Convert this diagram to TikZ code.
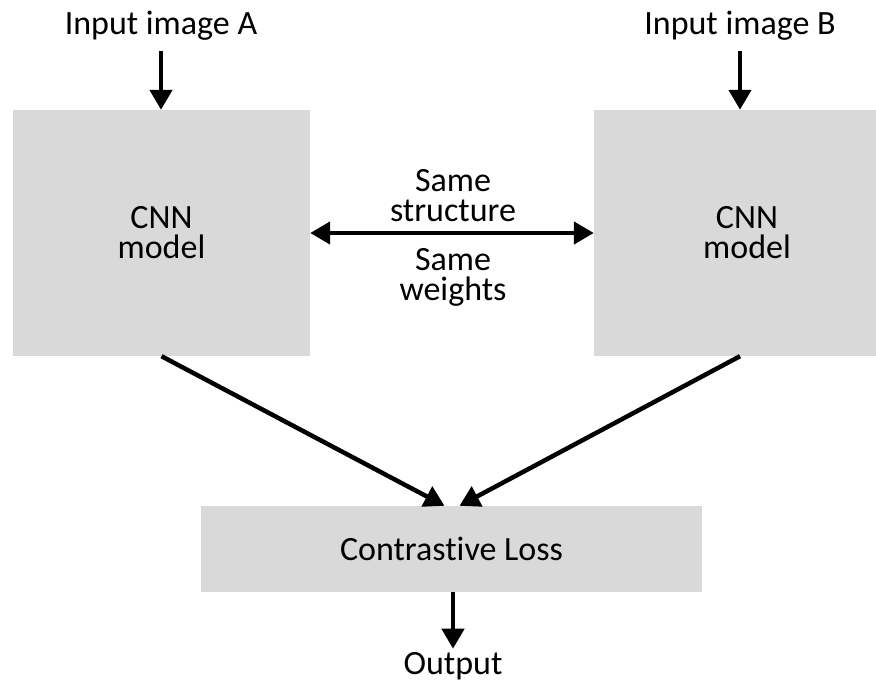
\documentclass[tikz,border=0pt]{standalone}
\usepackage{fontspec}
\setmainfont[Ligatures={NoCommon,NoContextual}]{Carlito}
\usetikzlibrary{arrows.meta}
\definecolor{boxgray}{HTML}{D9D9D9}
\begin{document}
\begin{tikzpicture}[x=1pt,y=-1pt,
  every node/.style={font=\fontsize{34}{30}\selectfont, inner sep=0pt, align=center},
  block/.style={fill=boxgray},
  flow/.style={line width=4.5pt, -{Triangle[width=22pt,length=20pt]}},
  twoway/.style={line width=4.5pt, {Triangle[width=22pt,length=20pt]}-{Triangle[width=22pt,length=20pt]}},
  ]
\useasboundingbox (0,0) rectangle (876,684);

% inputs
\node[anchor=base] (inA) at (161,35) {Input image A};
\node[anchor=base] (inB) at (740,35) {Input image B};

% twin networks
\node[block, minimum width=297pt, minimum height=246pt] (boxA) at (161.5,233) {CNN\\model};
\node[block, minimum width=306pt, minimum height=246pt] (boxB) at (747,233) {CNN\\model};

% loss (kern keeps t and i apart)
\node[block, minimum width=501pt, minimum height=86pt] (loss) at (451.5,549) {Contrast\kern0pt ive Loss};
\node[anchor=base] (out) at (453,674) {Output};

% shared labels
\node (same1) at (453,196) {Same\\structure};
\node (same2) at (453,277) {Same\\weights};

% connectors
\draw[flow, shorten <=10pt] (inA.south) -- (inA.south |- boxA.north);
\draw[flow, shorten <=10pt] (inB.south) -- (inB.south |- boxB.north);
\draw[twoway] (boxA.east) -- (boxB.west);
\draw[flow] (boxA.south) -- ([xshift=-7pt]loss.north);
\draw[flow] (inB.south |- boxB.south) -- ([xshift=8pt]loss.north);
\draw[flow, shorten >=3pt] (loss.south -| out.north) -- (out.north);
\end{tikzpicture}
\end{document}
